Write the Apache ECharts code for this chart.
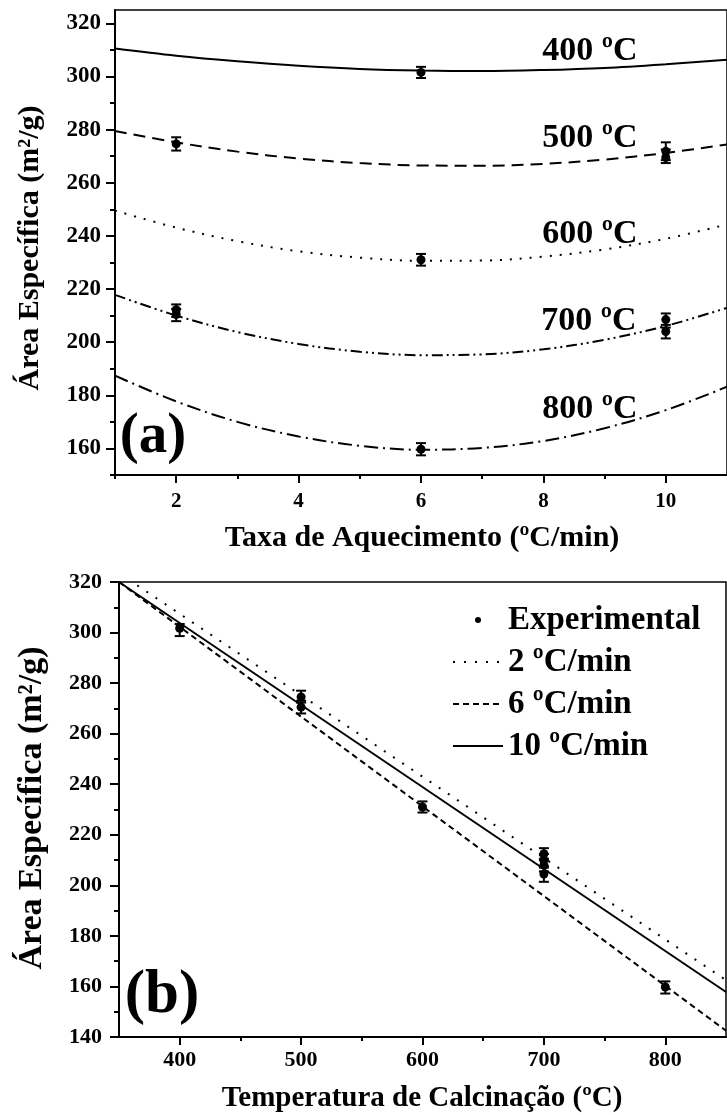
<!DOCTYPE html>
<html>
<head>
<meta charset="utf-8">
<script src="https://cdn.jsdelivr.net/npm/echarts@6/dist/echarts.min.js"></script>
<style>
html,body{margin:0;padding:0;background:#fff;}
#chart{width:727px;height:1115px;}
</style>
</head>
<body>
<div id="chart"></div>
<script>
// ---------- Panel (a): area vs heating rate ----------
const rateX = [1, 2, 3, 4, 5, 6, 7, 8, 9, 10, 11];
const curve400 = [310.5, 307.8, 305.7, 304.0, 302.8, 302.2, 302.0, 302.4, 303.2, 304.6, 306.3];
const curve500 = [279.5, 275.2, 271.7, 269.1, 267.4, 266.5, 266.4, 267.1, 268.7, 271.2, 274.4];
const curve600 = [249.5, 243.1, 238.0, 234.2, 231.8, 230.6, 230.7, 232.2, 234.9, 238.9, 244.3];
const curve700 = [217.8, 210.0, 203.8, 199.3, 196.4, 195.1, 195.4, 197.3, 200.9, 206.1, 212.9];
const curve800 = [187.4, 177.7, 170.0, 164.5, 161.0, 159.5, 160.2, 162.8, 167.6, 174.4, 183.2];
const curveLabels = ['400 ºC', '500 ºC', '600 ºC', '700 ºC', '800 ºC'];

const expRateX   = [6, 2, 10, 10, 6, 2, 2, 10, 10, 6];
const expRateY   = [301.5, 274.6, 271.8, 269.5, 231.0, 212.2, 210.4, 208.5, 204.0, 159.7];
const expRateLo  = [299.4, 272.1, 268.5, 267.4, 228.8, 209.5, 207.9, 205.5, 201.4, 157.4];
const expRateHi  = [303.6, 277.1, 275.2, 272.5, 233.2, 214.2, 212.5, 210.8, 206.5, 162.0];

const aXLabels = [2, 4, 6, 8, 10];
const aXMinor = [1, 3, 5, 7, 9];
const aYLabels = [160, 180, 200, 220, 240, 260, 280, 300, 320];
const aYMinor = [150, 170, 190, 210, 230, 250, 270, 290, 310];

// ---------- Panel (b): area vs calcination temperature ----------
const tempLineX = [350, 850];
const line2 = [323.5, 162.5];
const line6 = [320.0, 142.5];
const line10 = [320.0, 157.8];
const legendNames = ['Experimental', '2 ºC/min', '6 ºC/min', '10 ºC/min'];

const expTempX  = [400, 500, 500, 600, 700, 700, 700, 700, 800];
const expTempY  = [301.7, 274.5, 270.5, 231.0, 212.5, 210.0, 208.0, 204.5, 159.8];
const expTempLo = [298.6, 272.3, 268.0, 228.8, 210.0, 207.6, 205.5, 201.4, 157.2];
const expTempHi = [303.4, 277.0, 273.0, 233.2, 214.7, 212.4, 210.5, 207.0, 162.0];

const bXLabels = [400, 500, 600, 700, 800];
const bXMinor = [450, 550, 650, 750];
const bYLabels = [140, 160, 180, 200, 220, 240, 260, 280, 300, 320];
const bYMinor = [150, 170, 190, 210, 230, 250, 270, 290, 310];

// ---------- helpers ----------
const FONT = "'Liberation Serif','Times New Roman',serif";
const zip = (xs, ys) => xs.map((x, i) => [x, ys[i]]);
const zip3 = (xs, a, b) => xs.map((x, i) => [x, a[i], b[i]]);

function errRender(params, api) {
  const x = api.value(0);
  const lo = api.coord([x, api.value(1)]);
  const hi = api.coord([x, api.value(2)]);
  const w = 5;
  const st = { stroke: '#000', lineWidth: 2 };
  return {
    type: 'group',
    children: [
      { type: 'line', shape: { x1: lo[0], y1: lo[1], x2: hi[0], y2: hi[1] }, style: st },
      { type: 'line', shape: { x1: lo[0] - w, y1: lo[1], x2: lo[0] + w, y2: lo[1] }, style: st },
      { type: 'line', shape: { x1: hi[0] - w, y1: hi[1], x2: hi[0] + w, y2: hi[1] }, style: st }
    ]
  };
}

function mainAxis(grid, min, max, labels, fs, margin, pos, tickLen) {
  return {
    type: 'value', gridIndex: grid, min: min, max: max, position: pos,
    axisLine: { show: true, lineStyle: { color: '#000', width: 2 } },
    axisTick: { show: true, customValues: labels, length: tickLen, inside: false, lineStyle: { color: '#000', width: 2 } },
    axisLabel: { show: true, customValues: labels, color: '#000', fontFamily: FONT, fontWeight: 'bold', fontSize: fs, margin: margin },
    splitLine: { show: false }
  };
}
function minorAxis(grid, min, max, vals, pos, tickLen) {
  return {
    type: 'value', gridIndex: grid, min: min, max: max, position: pos, offset: 0,
    axisLine: { show: false },
    axisTick: { show: true, customValues: vals, length: tickLen, inside: false, lineStyle: { color: '#000', width: 2 } },
    axisLabel: { show: false },
    splitLine: { show: false }
  };
}

function curveSeries(name, data, type, width) {
  return {
    type: 'line', name: name, xAxisIndex: 0, yAxisIndex: 0, data: data,
    smooth: 0.35, showSymbol: false, symbol: 'none', silent: true,
    itemStyle: { color: '#000' },
    lineStyle: { color: '#000', width: width, type: type }
  };
}

const chart = echarts.init(document.getElementById('chart'), null, { renderer: 'canvas' });

const hiddenSym = { opacity: 0, color: '#000' };

const option = {
  animation: false,
  backgroundColor: '#fff',
  grid: [
    { left: 115, top: 10, right: -10, bottom: 640, show: true, borderColor: '#000', borderWidth: 1.5, backgroundColor: 'transparent' },
    { left: 119, top: 582, right: 1, bottom: 78, show: true, borderColor: '#000', borderWidth: 1.5, backgroundColor: 'transparent' }
  ],
  xAxis: [
    mainAxis(0, 1, 11, aXLabels, 21, 16, 'bottom', 8),
    minorAxis(0, 1, 11, aXMinor, 'bottom', 4),
    mainAxis(1, 350, 850, bXLabels, 22, 12, 'bottom', 8),
    minorAxis(1, 350, 850, bXMinor, 'bottom', 4)
  ],
  yAxis: [
    mainAxis(0, 150, 325, aYLabels, 23, 14, 'left', 9),
    minorAxis(0, 150, 325, aYMinor, 'left', 5),
    mainAxis(1, 140, 320, bYLabels, 22, 17, 'left', 9),
    minorAxis(1, 140, 320, bYMinor, 'left', 5)
  ],
  legend: {
    data: [
      { name: legendNames[0], icon: 'circle', itemStyle: { color: '#000', opacity: 1 } },
      { name: legendNames[1], itemStyle: hiddenSym },
      { name: legendNames[2], itemStyle: hiddenSym },
      { name: legendNames[3], itemStyle: hiddenSym }
    ],
    orient: 'vertical', left: 447, top: 594,
    itemWidth: 50, itemHeight: 6, itemGap: 0,
    textStyle: { color: '#000', fontFamily: FONT, fontWeight: 'bold', fontSize: 33, lineHeight: 42 },
    selectedMode: false
  },
  series: [
    curveSeries(curveLabels[0], zip(rateX, curve400), 'solid', 2),
    curveSeries(curveLabels[1], zip(rateX, curve500), [12, 7], 2),
    curveSeries(curveLabels[2], zip(rateX, curve600), [2, 8], 2),
    curveSeries(curveLabels[3], zip(rateX, curve700), [11, 4, 2, 4, 2, 4], 2),
    curveSeries(curveLabels[4], zip(rateX, curve800), [14, 5, 2, 5], 2),
    {
      type: 'custom', name: 'errA', xAxisIndex: 0, yAxisIndex: 0,
      data: zip3(expRateX, expRateLo, expRateHi), renderItem: errRender, silent: true, z: 3
    },
    {
      type: 'scatter', name: 'expA', xAxisIndex: 0, yAxisIndex: 0,
      data: zip(expRateX, expRateY), symbol: 'circle', symbolSize: 9,
      itemStyle: { color: '#000', opacity: 1 }, silent: true, z: 4
    },
    // panel b
    {
      type: 'line', name: legendNames[1], xAxisIndex: 2, yAxisIndex: 2, data: zip(tempLineX, line2),
      showSymbol: false, symbol: 'none', silent: true, itemStyle: { color: '#000' },
      lineStyle: { color: '#000', width: 2, type: [2, 9] }
    },
    {
      type: 'line', name: legendNames[2], xAxisIndex: 2, yAxisIndex: 2, data: zip(tempLineX, line6),
      showSymbol: false, symbol: 'none', silent: true, itemStyle: { color: '#000' },
      lineStyle: { color: '#000', width: 2, type: [6, 4] }
    },
    {
      type: 'line', name: legendNames[3], xAxisIndex: 2, yAxisIndex: 2, data: zip(tempLineX, line10),
      showSymbol: false, symbol: 'none', silent: true, itemStyle: { color: '#000' },
      lineStyle: { color: '#000', width: 2, type: 'solid' }
    },
    {
      type: 'custom', name: 'errB', xAxisIndex: 2, yAxisIndex: 2,
      data: zip3(expTempX, expTempLo, expTempHi), renderItem: errRender, silent: true, z: 3
    },
    {
      type: 'scatter', name: legendNames[0], xAxisIndex: 2, yAxisIndex: 2,
      data: zip(expTempX, expTempY), symbol: 'circle', symbolSize: 9,
      itemStyle: { color: '#000', opacity: 1 }, silent: true, z: 4
    }
  ],
  graphic: [
    // panel a curve labels
    { type: 'text', x: 590, y: 51, style: { text: curveLabels[0], font: "bold 34px " + FONT, fill: '#000', align: 'center', verticalAlign: 'middle' } },
    { type: 'text', x: 590, y: 138, style: { text: curveLabels[1], font: "bold 34px " + FONT, fill: '#000', align: 'center', verticalAlign: 'middle' } },
    { type: 'text', x: 590, y: 234, style: { text: curveLabels[2], font: "bold 34px " + FONT, fill: '#000', align: 'center', verticalAlign: 'middle' } },
    { type: 'text', x: 589, y: 321, style: { text: curveLabels[3], font: "bold 34px " + FONT, fill: '#000', align: 'center', verticalAlign: 'middle' } },
    { type: 'text', x: 590, y: 409, style: { text: curveLabels[4], font: "bold 34px " + FONT, fill: '#000', align: 'center', verticalAlign: 'middle' } },
    // panel tags
    { type: 'text', x: 153, y: 437, style: { text: '(a)', font: "bold 57px " + FONT, fill: '#000', align: 'center', verticalAlign: 'middle' } },
    { type: 'text', x: 162, y: 996, style: { text: '(b)', font: "bold 61px " + FONT, fill: '#000', align: 'center', verticalAlign: 'middle' } },
    // axis titles
    { type: 'text', x: 422, y: 538, style: { text: 'Taxa de Aquecimento (ºC/min)', font: "bold 30px " + FONT, fill: '#000', align: 'center', verticalAlign: 'middle' } },
    { type: 'text', x: 422, y: 1099, style: { text: 'Temperatura de Calcinação (ºC)', font: "bold 29px " + FONT, fill: '#000', align: 'center', verticalAlign: 'middle' } },
    { type: 'text', x: 30, y: 248, rotation: Math.PI / 2, style: { text: 'Área Específica (m²/g)', font: "bold 30px " + FONT, fill: '#000', align: 'center', verticalAlign: 'middle' } },
    { type: 'text', x: 32, y: 808, rotation: Math.PI / 2, style: { text: 'Área Específica (m²/g)', font: "bold 34px " + FONT, fill: '#000', align: 'center', verticalAlign: 'middle' } }
  ]
};
chart.setOption(option);
</script>
</body>
</html>
